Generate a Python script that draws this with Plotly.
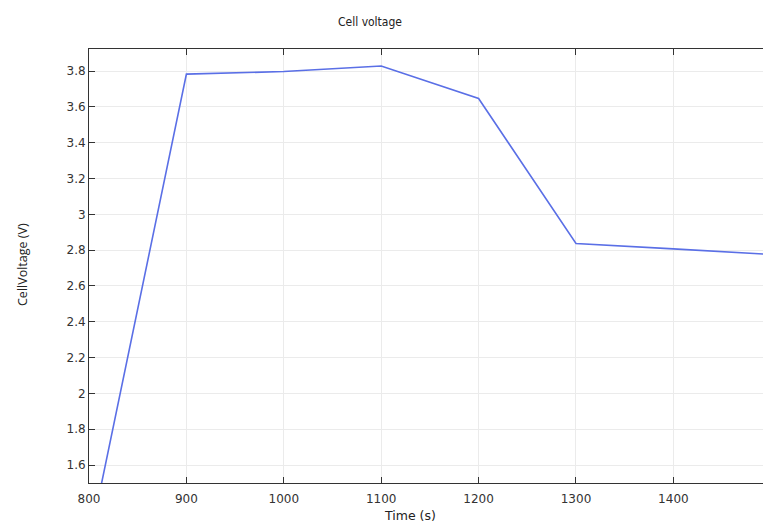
import plotly.graph_objects as go

time_s = [800, 900, 1000, 1100, 1200, 1300, 1400, 1500]
cell_voltage = [1.16, 3.783, 3.797, 3.828, 3.647, 2.837, 2.807, 2.776]

x_ticks = [800, 900, 1000, 1100, 1200, 1300, 1400]
y_ticks = [1.6, 1.8, 2.0, 2.2, 2.4, 2.6, 2.8, 3.0, 3.2, 3.4, 3.6, 3.8]
y_tick_labels = ["1.6", "1.8", "2", "2.2", "2.4", "2.6", "2.8", "3", "3.2", "3.4", "3.6", "3.8"]

fig = go.Figure()
fig.add_trace(go.Scatter(
    x=time_s, y=cell_voltage, mode="lines",
    line=dict(color="#5a6fe6", width=1.6),
    showlegend=False, hoverinfo="x+y",
))

axis_common = dict(
    showline=True, linecolor="#333333", linewidth=1,
    ticks="inside", ticklen=6, tickcolor="#333333",
    showgrid=True, gridcolor="#ebebeb", gridwidth=1,
    zeroline=False,
    tickfont=dict(family="DejaVu Sans", size=12, color="#333333"),
)

fig.update_layout(
    width=763, height=523,
    margin=dict(l=89, r=0, t=49, b=40),
    paper_bgcolor="white", plot_bgcolor="white",
    title=dict(text="Cell voltage", x=370 / 763, xref="container", xanchor="center",
               y=1 - 22 / 523, yref="container", yanchor="middle",
               font=dict(family="DejaVu Sans Condensed, DejaVu Sans", size=12, color="#222222")),
    xaxis=dict(range=[800, 1492], tickvals=x_ticks, mirror="ticks", ticklabelstandoff=5, **axis_common),
    yaxis=dict(range=[1.5, 3.923], tickvals=y_ticks, ticktext=y_tick_labels, mirror=False, **axis_common),
    annotations=[
        dict(text="Time (s)", xref="paper", yref="paper", x=(410 - 89) / 674, y=0,
             yshift=-32, xanchor="center", yanchor="middle", showarrow=False,
             font=dict(family="DejaVu Sans", size=12.5, color="#222222")),
        dict(text="CellVoltage (V)", xref="paper", yref="paper", x=(22 - 89) / 674, y=(483 - 265) / 434,
             xanchor="center", yanchor="middle", textangle=-90, showarrow=False,
             font=dict(family="Open Sans", size=12.5, color="#222222")),
    ],
)

fig.write_html("out.html")
